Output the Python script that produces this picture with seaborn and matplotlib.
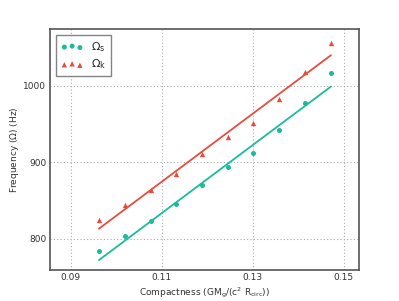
import matplotlib
matplotlib.use('Agg')
import matplotlib.pyplot as plt
import pandas as pd
import numpy as np
import seaborn as sns

# compactness values and the two frequencies
compactness = [0.0962, 0.1019, 0.1076, 0.1131, 0.1188, 0.1245, 0.1300, 0.1358, 0.1415, 0.1472]
omega_s = [784.7, 803.9, 823.9, 845.4, 870.6, 893.7, 912.0, 942.5, 978.2, 1017.0]
omega_k = [824.8, 844.4, 864.1, 885.4, 910.7, 933.3, 952.0, 982.6, 1018.3, 1056.6]

# linear fits (end points)
fit_x = [0.0962, 0.1472]
fit_s = [772.5, 999.1]
fit_k = [813.5, 1040.1]

teal = '#1abc9c'
red = '#e74c3c'

sns.set_style('white')
plt.rcParams['font.family'] = ['DejaVu Sans']
plt.rcParams['mathtext.default'] = 'regular'

df = pd.DataFrame({'c': compactness, 's': omega_s, 'k': omega_k})
df_fit = pd.DataFrame({'c': fit_x, 's': fit_s, 'k': fit_k})

fig, ax = plt.subplots(figsize=(3.99, 3.01), dpi=100)
fig.subplots_adjust(left=0.125, right=0.9, bottom=0.103, top=0.904)

sns.lineplot(data=df_fit, x='c', y='s', color=teal, lw=1.3, ax=ax)
sns.lineplot(data=df_fit, x='c', y='k', color=red, lw=1.3, ax=ax)
sns.scatterplot(data=df, x='c', y='s', color=teal, marker='o', s=13, linewidth=0, ax=ax)
sns.scatterplot(data=df, x='c', y='k', color=red, marker='^', s=15, linewidth=0, ax=ax)

h_s = ax.scatter([], [], color=teal, marker='o', s=13, linewidth=0)
h_k = ax.scatter([], [], color=red, marker='^', s=15, linewidth=0)
leg = ax.legend([h_s, h_k], [r'$\Omega_s$', r'$\Omega_k$'], loc='upper left',
                scatterpoints=3, scatteryoffsets=[0.375, 0.5, 0.3125],
                fontsize=8, frameon=True, fancybox=False, borderaxespad=0.55,
                handletextpad=0.7, labelspacing=0.35, borderpad=0.45,
                handlelength=2.0)
leg.get_frame().set_edgecolor('#666666')
leg.get_frame().set_linewidth(1.0)

ax.set_xlim(0.0854, 0.1534)
ax.set_ylim(759.5, 1074.5)
ax.set_xticks([0.09, 0.11, 0.13, 0.15])
ax.set_xticklabels(['0.09', '0.11', '0.13', '0.15'])
ax.set_yticks([800, 900, 1000])
ax.grid(True, linestyle=(0, (1, 2)), color='#aaaaaa', lw=0.8)
ax.tick_params(length=0, labelsize=6.5, pad=2.5, colors='#333333')
for sp in ax.spines.values():
    sp.set_color('#555555')
    sp.set_linewidth(1.2)

ax.set_xlabel(r'Compactness (GM$_g$/(c$^2$ R$_{circ}$))', fontsize=6.5, color='#333333', labelpad=2.5)
ax.set_ylabel(r'Frequency ($\Omega$) (Hz)', fontsize=6.5, color='#333333', labelpad=2)

fig.savefig('out.png', dpi=100)
